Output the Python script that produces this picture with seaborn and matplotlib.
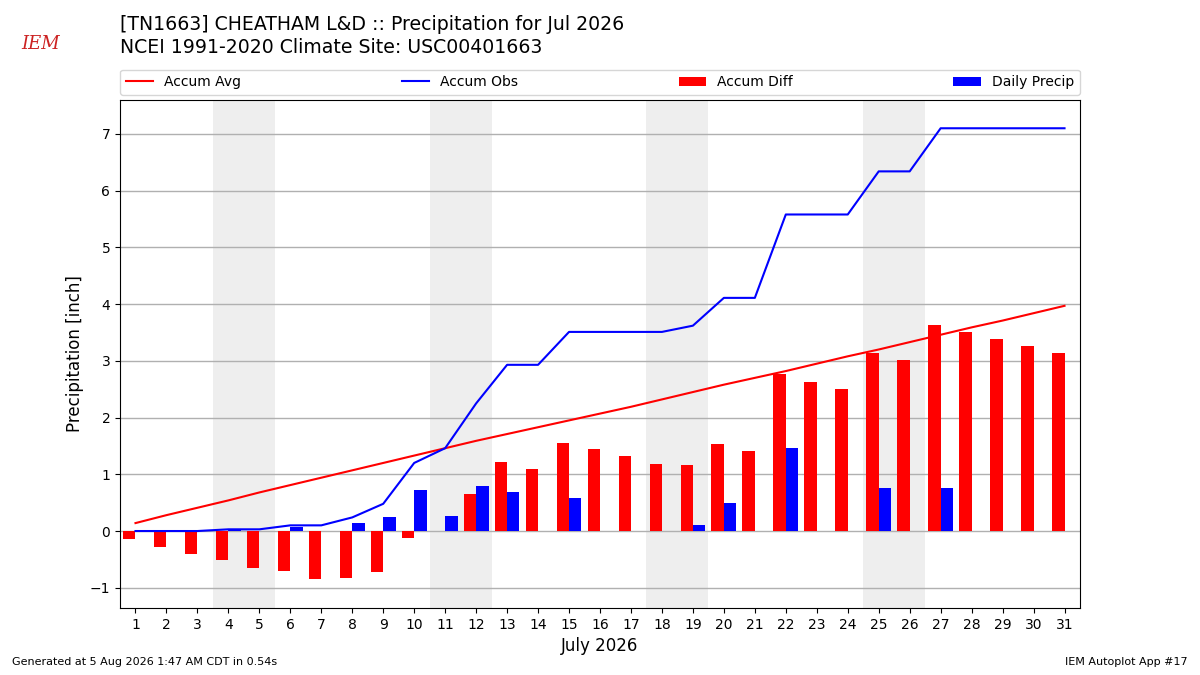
import numpy as np
import pandas as pd
import seaborn as sns
import matplotlib.pyplot as plt
from matplotlib.patches import Patch
from matplotlib.lines import Line2D

# Daily data for July 2026
days = list(range(1, 32))
daily_precip = [0.00, 0.00, 0.00, 0.03, 0.00, 0.07, 0.00, 0.14, 0.24, 0.72,
                0.26, 0.79, 0.68, 0.00, 0.58, 0.00, 0.00, 0.00, 0.11, 0.49,
                0.00, 1.47, 0.00, 0.00, 0.76, 0.00, 0.76, 0.00, 0.00, 0.00, 0.00]
accum_obs = [0.00, 0.00, 0.00, 0.03, 0.03, 0.10, 0.10, 0.24, 0.48, 1.20,
             1.46, 2.25, 2.93, 2.93, 3.51, 3.51, 3.51, 3.51, 3.62, 4.11,
             4.11, 5.58, 5.58, 5.58, 6.34, 6.34, 7.10, 7.10, 7.10, 7.10, 7.10]
accum_avg = [0.14, 0.28, 0.41, 0.54, 0.68, 0.81, 0.94, 1.07, 1.20, 1.33,
             1.46, 1.59, 1.71, 1.83, 1.95, 2.07, 2.19, 2.32, 2.45, 2.58,
             2.70, 2.82, 2.95, 3.08, 3.20, 3.33, 3.46, 3.59, 3.71, 3.84, 3.97]
weekends = [4, 11, 18, 25]  # saturdays, shaded through sunday

accum_diff = [o - a for o, a in zip(accum_obs, accum_avg)]

# long form table for the dodged bars
bars = pd.DataFrame({
    'day': days * 2,
    'value': accum_diff + daily_precip,
    'kind': ['Accum Diff'] * 31 + ['Daily Precip'] * 31,
})

fig = plt.figure(figsize=(12, 6.75), dpi=100)
ax = fig.add_axes([0.1, 0.099, 0.8, 0.753])

for sat in weekends:
    ax.axvspan(sat - 0.5, sat + 1.5, color='#eeeeee', zorder=0, lw=0)

ax.grid(axis='y', color='#b0b0b0', lw=1, zorder=1)
ax.set_axisbelow(True)

sns.barplot(data=bars, x='day', y='value', hue='kind', native_scale=True,
            palette={'Accum Diff': 'red', 'Daily Precip': 'blue'},
            saturation=1, errorbar=None, linewidth=0, legend=False,
            width=0.8, ax=ax, zorder=2)

sns.lineplot(x=days, y=accum_avg, color='red', lw=1.5, ax=ax, zorder=3)
sns.lineplot(x=days, y=accum_obs, color='blue', lw=1.5, ax=ax, zorder=3)

ax.set_xlim(0.5, 31.5)
ax.set_ylim(-1.36, 7.6)
ax.set_xticks(days)
ax.set_xticklabels([str(d) for d in days], fontsize=10)
ax.set_yticks(range(-1, 8))
ax.set_yticklabels(['\u22121'] + [str(v) for v in range(0, 8)], fontsize=10)
ax.set_xlabel('July 2026', fontsize=12)
ax.set_ylabel('Precipitation [inch]', fontsize=12)

handles = [Line2D([], [], color='red', lw=1.5),
           Line2D([], [], color='blue', lw=1.5),
           Patch(facecolor='red'),
           Patch(facecolor='blue')]
labels = ['Accum Avg', 'Accum Obs', 'Accum Diff', 'Daily Precip']
ax.legend(handles, labels, ncol=4, mode='expand', loc='lower left',
          bbox_to_anchor=(0, 1.01, 1, 0.05), borderaxespad=0, fontsize=10)

fig.text(0.1, 0.9644, '[TN1663] CHEATHAM L&D :: Precipitation for Jul 2026',
         fontsize=13.6, va='center')
fig.text(0.1, 0.930, 'NCEI 1991-2020 Climate Site: USC00401663',
         fontsize=13.6, va='center')

# stand-in for the IEM logo
fig.text(0.018, 0.935, 'IEM', color='#cc2222', fontsize=13, style='italic',
         family='DejaVu Serif', va='center')

fig.text(0.01, 0.015, 'Generated at 5 Aug 2026 1:47 AM CDT in 0.54s', fontsize=8)
fig.text(0.99, 0.015, 'IEM Autoplot App #17', fontsize=8, ha='right')

fig.savefig('out.png', dpi=100)
